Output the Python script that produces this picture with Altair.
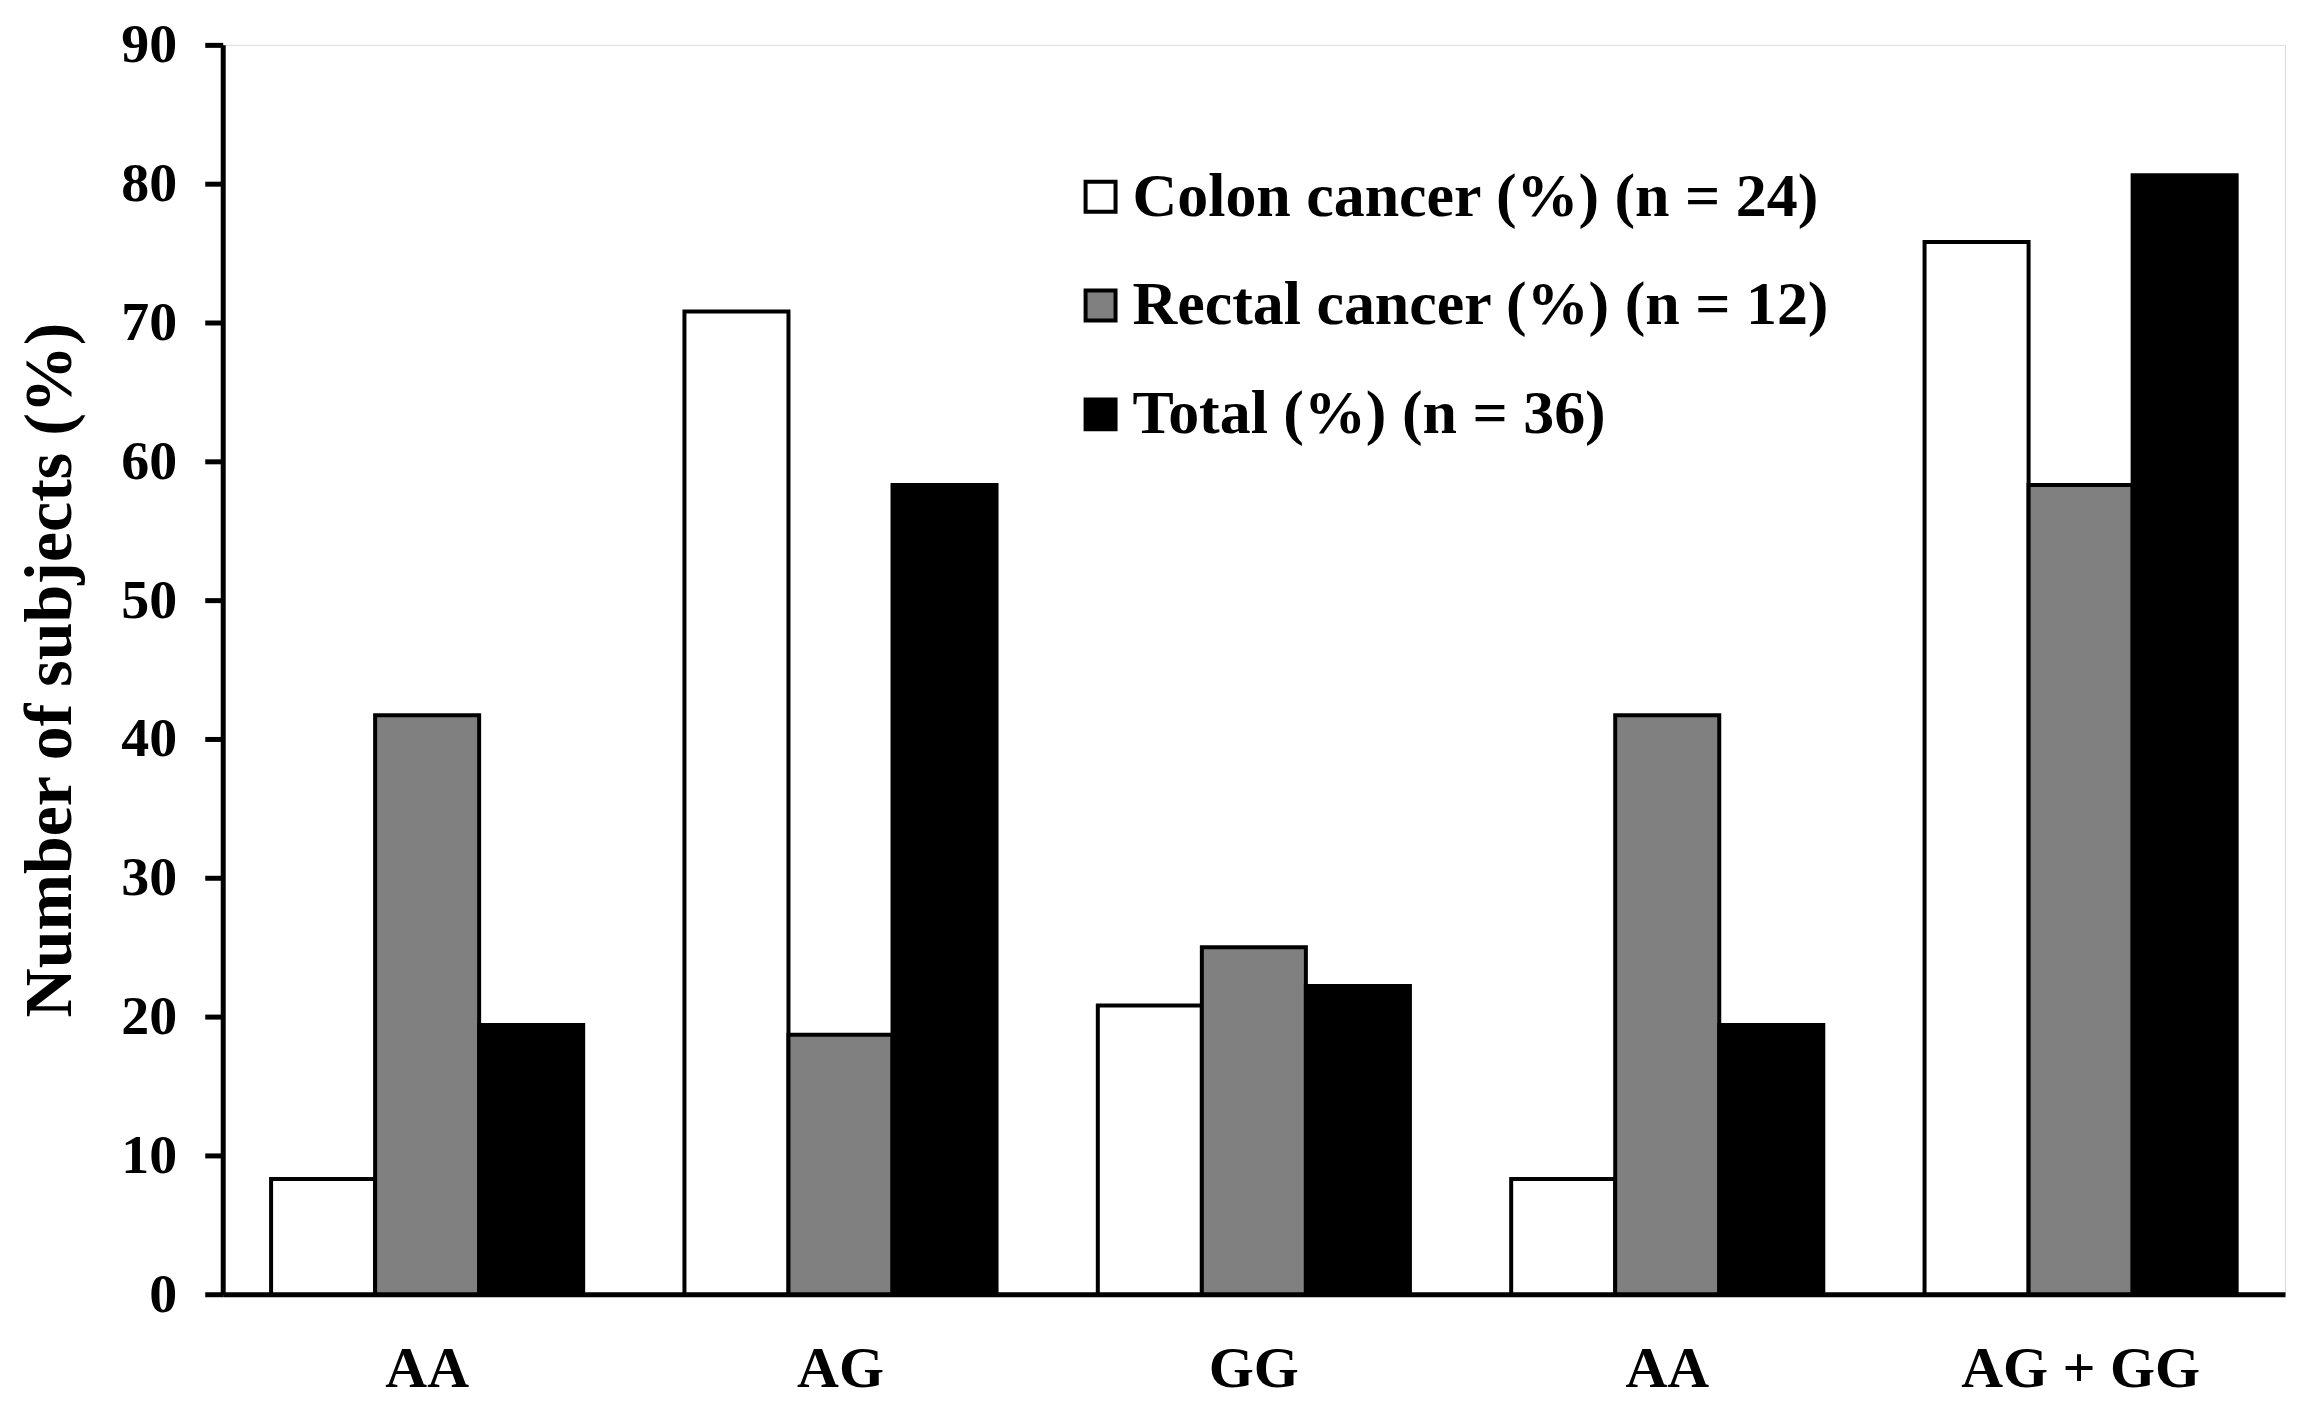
import json
import altair as alt
import pandas as pd

groups = ["AA", "AG", "GG", "AA", "AG + GG"]
series = ["Colon cancer (%) (n = 24)", "Rectal cancer (%) (n = 12)", "Total (%) (n = 36)"]
colon = [8.3, 70.8, 20.8, 8.3, 75.8]
rectal = [41.7, 18.7, 25.0, 41.7, 58.3]
total = [19.4, 58.3, 22.2, 19.4, 80.6]
colors = ["#ffffff", "#808080", "#000000"]
y_ticks = [0, 10, 20, 30, 40, 50, 60, 70, 80, 90]

rows = []
for i, g in enumerate(groups):
    for s, vals in zip(series, [colon, rectal, total]):
        rows.append({"gid": str(i), "series": s, "value": vals[i]})
df = pd.DataFrame(rows)

FONT = "Liberation Serif"
label_expr = json.dumps(groups) + "[toNumber(datum.value)]"

chart = alt.Chart(df).mark_bar(stroke="black", strokeWidth=4).encode(
    x=alt.X("gid:N", sort=[str(i) for i in range(len(groups))],
            scale=alt.Scale(paddingInner=0.245, paddingOuter=0.117),
            axis=alt.Axis(title=None, labelExpr=label_expr, labelAngle=0,
                          ticks=False, labelPadding=46, labelFontSize=58,
                          labelFont=FONT, labelFontWeight="bold", labelColor="black",
                          labelLimit=1000,
                          domainColor="black", domainWidth=5)),
    xOffset=alt.XOffset("series:N", sort=series, scale=alt.Scale(paddingInner=0, paddingOuter=0)),
    y=alt.Y("value:Q", scale=alt.Scale(domain=[0, 90], nice=False),
            axis=alt.Axis(title="Number of subjects (%)", values=y_ticks, grid=False,
                          tickSize=18, tickWidth=5, tickColor="black",
                          domainColor="black", domainWidth=5,
                          labelFontSize=56, labelFont=FONT, labelFontWeight="bold",
                          labelColor="black", labelPadding=28,
                          titleFontSize=68, titleFont=FONT, titleFontWeight="bold",
                          titleColor="black", titleX=-172, titleBaseline="middle")),
    fill=alt.Fill("series:N", sort=series,
                  scale=alt.Scale(domain=series, range=colors),
                  legend=alt.Legend(title=None, orient="none", legendX=848, legendY=121,
                                    symbolType="square", symbolSize=900,
                                    symbolStrokeColor="black", symbolStrokeWidth=4,
                                    labelFontSize=62, labelFont=FONT, labelFontWeight="bold",
                                    labelColor="black", labelOffset=1, rowPadding=47,
                                    labelLimit=1000)),
).properties(
    width=2065, height=1251,
    autosize=alt.AutoSizeParams(type="none"),
    padding={"left": 215, "top": 36, "right": 10, "bottom": 108},
).configure_view(stroke=None).configure(background="white")

chart.save("out.html", embed_options={"renderer": "svg", "actions": False})
